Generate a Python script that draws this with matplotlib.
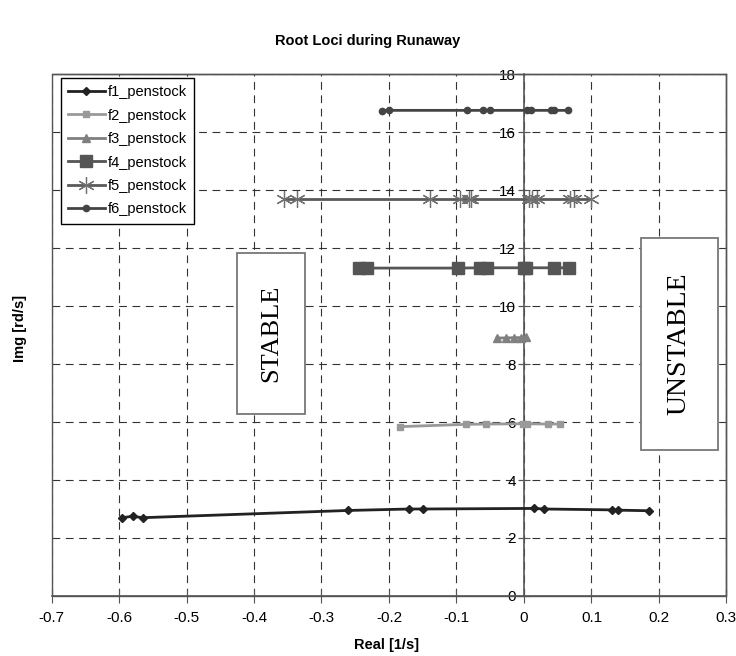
import matplotlib
matplotlib.use("Agg")
from matplotlib import pyplot as plt
from matplotlib.patches import Rectangle

plt.rcParams["font.family"] = ["Liberation Sans", "DejaVu Sans"]

f1_real = [-0.595, -0.58, -0.565, -0.26, -0.17, -0.15, 0.015, 0.03, 0.13, 0.14, 0.185]
f1_imag = [2.70, 2.75, 2.70, 2.95, 3.00, 3.00, 3.02, 3.00, 2.97, 2.96, 2.94]

f2_real = [-0.184, -0.086, -0.056, -0.001, 0.005, 0.036, 0.053]
f2_imag = [5.84, 5.92, 5.93, 5.94, 5.94, 5.93, 5.93]

f3_real = [-0.04, -0.027, -0.015, -0.005, 0.003]
f3_imag = [8.90, 8.90, 8.91, 8.91, 8.92]

f4_real = [-0.245, -0.232, -0.098, -0.065, -0.055, 0.0, 0.003, 0.045, 0.066]
f4_imag = [11.31, 11.31, 11.31, 11.32, 11.32, 11.32, 11.32, 11.32, 11.32]

f5_real = [-0.356, -0.337, -0.139, -0.095, -0.082, -0.078, 0.007, 0.012, 0.019, 0.068, 0.074, 0.099]
f5_imag = [13.69] * 12

f6_real = [-0.21, -0.2, -0.085, -0.06, -0.05, 0.005, 0.01, 0.04, 0.045, 0.065]
f6_imag = [16.74, 16.75, 16.75, 16.75, 16.75, 16.75, 16.75, 16.75, 16.75, 16.75]

x_ticks = [-0.7, -0.6, -0.5, -0.4, -0.3, -0.2, -0.1, 0, 0.1, 0.2, 0.3]
x_tick_labels = ["-0.7", "-0.6", "-0.5", "-0.4", "-0.3", "-0.2", "-0.1", "0", "0.1", "0.2", "0.3"]
y_ticks = [0, 2, 4, 6, 8, 10, 12, 14, 16, 18]


def main():
    figure = plt.figure(figsize=(7.36, 6.56), dpi=100)
    axis = figure.add_axes([0.070, 0.0915, 0.917, 0.7955])

    axis.plot(f1_real, f1_imag, color="#222222", linewidth=2, marker="D",
              markersize=4, label="f1_penstock", zorder=5)
    axis.plot(f2_real, f2_imag, color="#999999", linewidth=2, marker="s",
              markersize=5, label="f2_penstock", zorder=5)
    axis.plot(f3_real, f3_imag, color="#808080", linewidth=2, marker="^",
              markersize=6, label="f3_penstock", zorder=5)
    axis.plot(f4_real, f4_imag, color="#555555", linewidth=2, marker="s",
              markersize=8, label="f4_penstock", zorder=5)
    axis.plot(f5_real, f5_imag, color="#5a5a5a", linewidth=2, marker=(6, 2, 0),
              markersize=12, markeredgewidth=0.9, markeredgecolor="#707070",
              label="f5_penstock", zorder=5)
    axis.plot(f6_real, f6_imag, color="#444444", linewidth=2, marker="o",
              markersize=4.5, label="f6_penstock", zorder=5)

    axis.set_xlim(-0.7, 0.3)
    axis.set_ylim(0, 18)
    axis.set_xticks(x_ticks)
    axis.set_xticklabels(x_tick_labels)
    axis.set_yticks(y_ticks)

    axis.grid(True, color="#333333", linestyle=(0, (7, 5)), linewidth=0.8)
    axis.set_axisbelow(True)

    axis.spines["left"].set_position(("data", 0))
    axis.spines["left"].set_color("#555555")
    axis.spines["left"].set_linewidth(1.2)
    axis.spines["bottom"].set_color("#555555")
    axis.spines["bottom"].set_linewidth(1.2)
    for side in ["top", "right"]:
        axis.spines[side].set_color("#555555")
        axis.spines[side].set_linewidth(1.0)
    axis.add_patch(Rectangle((0, 0), 1, 1, transform=axis.transAxes,
                             fill=False, edgecolor="#555555", linewidth=1.0,
                             clip_on=False, zorder=6))

    axis.tick_params(axis="y", direction="inout", length=8, pad=2,
                     labelsize=11, color="#555555")
    axis.tick_params(axis="x", direction="inout", length=10, pad=6,
                     labelsize=11, color="#555555")

    axis.add_patch(Rectangle((-0.425, 6.28), 0.101, 5.55, facecolor="white",
                             edgecolor="#777777", linewidth=1.3, zorder=3))
    axis.text(-0.3745, 9.05, "STABLE", rotation=90, ha="center", va="center",
              fontsize=19, family="Liberation Serif", color="black", zorder=4)

    axis.add_patch(Rectangle((0.173, 5.03), 0.114, 7.31, facecolor="white",
                             edgecolor="#777777", linewidth=1.3, zorder=3))
    axis.text(0.230, 8.7, "UNSTABLE", rotation=90, ha="center", va="center",
              fontsize=20, family="Liberation Serif", color="black", zorder=4)

    legend = axis.legend(loc="upper left", bbox_to_anchor=(0.014, 0.993),
                         borderaxespad=0, fancybox=False, framealpha=1,
                         edgecolor="black", fontsize=10.5, handlelength=2.5,
                         labelspacing=0.65, handletextpad=0.2,
                         borderpad=0.5)
    legend.get_frame().set_linewidth(1.0)
    legend.set_zorder(10)

    figure.text(0.5, 0.938, "Root Loci during Runaway", ha="center",
                va="center", fontsize=10.5, fontweight="bold")
    figure.text(0.525, 0.017, "Real [1/s]", ha="center", va="center",
                fontsize=10.5, fontweight="bold")
    figure.text(0.027, 0.5, "Img [rd/s]", ha="center", va="center",
                rotation=90, fontsize=10.5, fontweight="bold")

    figure.savefig("out.png", dpi=100)


if __name__ == '__main__':
    main()
